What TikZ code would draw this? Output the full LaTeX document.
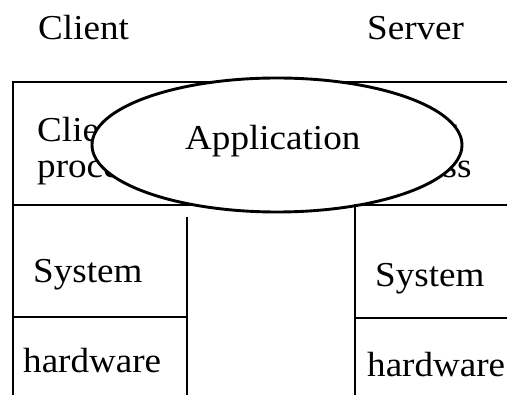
\documentclass[tikz,border=0pt]{standalone}
\usepackage{fontspec}
\setmainfont{Liberation Serif}[FakeStretch=1.06]
\usetikzlibrary{shapes.geometric}
\begin{document}
\begin{tikzpicture}[x=1pt,y=-1pt,
  ln/.style={line width=2.9pt,line cap=rect},
  txt/.style={inner sep=0pt,anchor=base west,font=\fontsize{35pt}{42pt}\selectfont},
  appshape/.style={ellipse,draw,fill=white,line width=2.9pt,minimum width=370pt,minimum height=134pt,inner sep=0pt}]
\useasboundingbox (0,0) rectangle (507,395);
% headings
\node[txt] (client) at (38,40) {Client};
\node[txt] (server) at (367,40) {Server};
% top row
\draw[ln] (13,82) rectangle (520,205);
\node[txt] (cproc1) at (37,142) {Client};
\node[txt] (cproc2) at (37,178) {process};
\node[txt] (sproc1) at (360,142) {Server};
\node[txt] (sproc2) at (360,178) {process};
% application ellipse
\node[appshape] (app) at (277,145) {};
\node[txt] (apptext) at (185,150) {Application};
% client column
\draw[ln] (13,205) -- (13,400);
\draw[ln] (187,218) -- (187,400);
\draw[ln] (13,317) -- (187,317);
\node[txt] (csys) at (33,283) {System};
\node[txt] (chw) at (23,373) {hardware};
% server column
\draw[ln] (355,205) -- (355,400);
\draw[ln] (355,318) -- (520,318);
\node[txt] (ssys) at (375,287) {System};
\node[txt] (shw) at (367,377) {hardware};
\end{tikzpicture}
\end{document}
